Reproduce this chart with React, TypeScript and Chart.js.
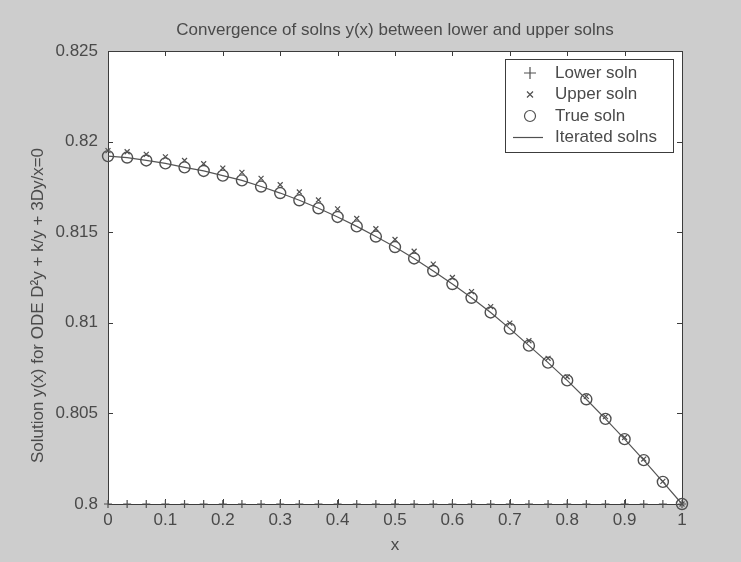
import React, { useEffect, useRef } from "react";
import { Chart, registerables } from "chart.js";

Chart.register(...registerables);

const xValues = [
  0, 1 / 30, 2 / 30, 3 / 30, 4 / 30, 5 / 30, 6 / 30, 7 / 30, 8 / 30, 9 / 30,
  10 / 30, 11 / 30, 12 / 30, 13 / 30, 14 / 30, 15 / 30, 16 / 30, 17 / 30, 18 / 30, 19 / 30,
  20 / 30, 21 / 30, 22 / 30, 23 / 30, 24 / 30, 25 / 30, 26 / 30, 27 / 30, 28 / 30, 29 / 30, 1,
];

const trueSoln = [
  0.8192, 0.81912, 0.81896, 0.8188, 0.81858, 0.81838, 0.81812, 0.81786, 0.81752, 0.81716,
  0.81676, 0.81632, 0.81584, 0.81532, 0.81476, 0.81418, 0.81355, 0.81286, 0.81214, 0.81138,
  0.81057, 0.80968, 0.80874, 0.8078, 0.80682, 0.80578, 0.8047, 0.80358, 0.80242, 0.80122, 0.8,
];

const upperSoln = [
  0.8195, 0.81944, 0.8193, 0.81916, 0.81896, 0.81878, 0.81854, 0.8183, 0.81797, 0.81762,
  0.81722, 0.81678, 0.81629, 0.81576, 0.81519, 0.8146, 0.81395, 0.81324, 0.8125, 0.81172,
  0.81089, 0.80998, 0.80901, 0.80804, 0.80702, 0.80594, 0.80482, 0.80367, 0.80248, 0.80125, 0.8,
];

const lowerSoln = [
  0.8, 0.8, 0.8, 0.8, 0.8, 0.8, 0.8, 0.8, 0.8, 0.8,
  0.8, 0.8, 0.8, 0.8, 0.8, 0.8, 0.8, 0.8, 0.8, 0.8,
  0.8, 0.8, 0.8, 0.8, 0.8, 0.8, 0.8, 0.8, 0.8, 0.8, 0.8,
];

const iteratedSoln = [
  0.8192, 0.81912, 0.81896, 0.8188, 0.81858, 0.81838, 0.81812, 0.81786, 0.81752, 0.81716,
  0.81676, 0.81632, 0.81584, 0.81532, 0.81476, 0.81418, 0.81355, 0.81286, 0.81214, 0.81138,
  0.81057, 0.80968, 0.80874, 0.8078, 0.80682, 0.80578, 0.8047, 0.80358, 0.80242, 0.80122, 0.8,
];

const xTicks = [0, 0.1, 0.2, 0.3, 0.4, 0.5, 0.6, 0.7, 0.8, 0.9, 1];
const xTickLabels = ["0", "0.1", "0.2", "0.3", "0.4", "0.5", "0.6", "0.7", "0.8", "0.9", "1"];
const yTicks = [0.8, 0.805, 0.81, 0.815, 0.82, 0.825];
const yTickLabels = ["0.8", "0.805", "0.81", "0.815", "0.82", "0.825"];

const seriesLabels = ["Lower soln", "Upper soln", "True soln", "Iterated solns"];
const chartTitle = "Convergence of solns y(x) between lower and upper solns";
const yAxisTitle = "Solution y(x) for ODE D²y + k/y + 3Dy/x=0";

const FONT = "'Liberation Sans', Arial, Helvetica, sans-serif";
const FS = 17;
const TEXT = "#4a4a4a";
const INK = "#505050";
const BG = "#cdcdcd";

const toPts = (ys: number[]) => ys.map((y, i) => ({ x: xValues[i], y }));

const framePlugin = {
  id: "frame",
  beforeDraw(chart: any) {
    const { ctx, chartArea: a } = chart;
    ctx.save();
    ctx.fillStyle = BG;
    ctx.fillRect(0, 0, chart.width, chart.height);
    ctx.fillStyle = "#ffffff";
    ctx.fillRect(a.left, a.top, a.right - a.left, a.bottom - a.top);
    ctx.fillStyle = TEXT;
    ctx.font = `${FS}px ${FONT}`;
    ctx.textAlign = "center";
    ctx.textBaseline = "middle";
    ctx.fillText(chartTitle, (a.left + a.right) / 2, 30);
    ctx.translate(38, (a.top + a.bottom) / 2 + 28);
    ctx.rotate(-Math.PI / 2);
    ctx.fillText(yAxisTitle, 0, 0);
    ctx.restore();
  },
  beforeDatasetsDraw(chart: any) {
    const { ctx, chartArea: a, scales } = chart;
    ctx.save();
    ctx.strokeStyle = "#3c3c3c";
    ctx.lineWidth = 1;
    ctx.strokeRect(Math.round(a.left) + 0.5, Math.round(a.top) + 0.5, Math.round(a.right - a.left), Math.round(a.bottom - a.top));
    const tl = 5;
    ctx.beginPath();
    xTicks.forEach((v) => {
      const px = Math.round(scales.x.getPixelForValue(v)) + 0.5;
      ctx.moveTo(px, a.bottom);
      ctx.lineTo(px, a.bottom - tl);
      ctx.moveTo(px, a.top);
      ctx.lineTo(px, a.top + tl);
    });
    yTicks.forEach((v) => {
      const py = Math.round(scales.y.getPixelForValue(v)) + 0.5;
      ctx.moveTo(a.left, py);
      ctx.lineTo(a.left + tl, py);
      ctx.moveTo(a.right, py);
      ctx.lineTo(a.right - tl, py);
    });
    ctx.stroke();
    ctx.restore();
  },
  afterDatasetsDraw(chart: any) {
    const { ctx, chartArea: a } = chart;
    const bx = a.right - 9;
    const w = 168;
    const left = bx - w;
    const top = a.top + 8;
    const h = 93;
    ctx.save();
    ctx.fillStyle = "#ffffff";
    ctx.fillRect(left, top, w, h);
    ctx.strokeStyle = "#3c3c3c";
    ctx.lineWidth = 1;
    ctx.strokeRect(Math.round(left) + 0.5, Math.round(top) + 0.5, w, h);
    const sx = left + 25;
    const tx = left + 50;
    ctx.font = `${FS}px ${FONT}`;
    ctx.textBaseline = "middle";
    ctx.textAlign = "left";
    seriesLabels.forEach((lab, i) => {
      const y = top + 14 + i * 21.5;
      ctx.strokeStyle = INK;
      ctx.lineWidth = 1.2;
      ctx.beginPath();
      if (i === 0) {
        ctx.moveTo(sx - 6, y);
        ctx.lineTo(sx + 6, y);
        ctx.moveTo(sx, y - 6);
        ctx.lineTo(sx, y + 6);
      } else if (i === 1) {
        ctx.moveTo(sx - 3, y - 3);
        ctx.lineTo(sx + 3, y + 3);
        ctx.moveTo(sx + 3, y - 3);
        ctx.lineTo(sx - 3, y + 3);
      } else if (i === 2) {
        ctx.arc(sx, y, 5.5, 0, Math.PI * 2);
      } else {
        ctx.moveTo(sx - 17, y);
        ctx.lineTo(sx + 13, y);
      }
      ctx.stroke();
      ctx.fillStyle = TEXT;
      ctx.fillText(lab, tx, y);
    });
    ctx.restore();
  },
};

export default function App() {
  const ref = useRef<HTMLCanvasElement | null>(null);

  useEffect(() => {
    document.body.style.margin = "0";
    const canvas = ref.current;
    if (!canvas) return;
    const chart = new Chart(canvas, {
      type: "line",
      data: {
        datasets: [
          {
            label: seriesLabels[3],
            data: toPts(iteratedSoln),
            borderColor: "#555555",
            borderWidth: 1.2,
            pointRadius: 0,
            fill: false,
            tension: 0,
            clip: false,
            order: 4,
          } as any,
          {
            label: seriesLabels[0],
            data: toPts(lowerSoln),
            showLine: false,
            pointStyle: "cross",
            pointRadius: 4,
            pointBorderColor: INK,
            pointBackgroundColor: "rgba(0,0,0,0)",
            pointBorderWidth: 1.2,
            borderColor: INK,
            clip: false,
            order: 3,
          },
          {
            label: seriesLabels[1],
            data: toPts(upperSoln),
            showLine: false,
            pointStyle: "crossRot",
            pointRadius: 3.5,
            pointBorderColor: INK,
            pointBackgroundColor: "rgba(0,0,0,0)",
            pointBorderWidth: 1.2,
            borderColor: INK,
            clip: false,
            order: 2,
          },
          {
            label: seriesLabels[2],
            data: toPts(trueSoln),
            showLine: false,
            pointStyle: "circle",
            pointRadius: 5.5,
            pointBorderColor: INK,
            pointBackgroundColor: "rgba(0,0,0,0)",
            pointBorderWidth: 1.4,
            borderColor: INK,
            clip: false,
            order: 1,
          },
        ],
      },
      options: {
        animation: false,
        responsive: true,
        maintainAspectRatio: false,
        layout: { padding: { left: 0, right: 59, top: 51, bottom: 0 } },
        plugins: {
          legend: { display: false },
          tooltip: { enabled: false },
          title: { display: false },
        },
        scales: {
          x: {
            type: "linear",
            min: 0,
            max: 1,
            afterBuildTicks: (s: any) => {
              s.ticks = xTicks.map((v) => ({ value: v }));
            },
            afterFit: (s: any) => {
              s.height = 58;
            },
            grid: { display: false, drawTicks: false },
            border: { display: false },
            ticks: {
              color: TEXT,
              font: { family: FONT, size: FS },
              padding: 6,
              maxRotation: 0,
              autoSkip: false,
              callback: (v: any) => {
                const i = xTicks.findIndex((t) => Math.abs(t - Number(v)) < 1e-9);
                return i >= 0 ? xTickLabels[i] : "";
              },
            },
            title: {
              display: true,
              text: "x",
              color: TEXT,
              font: { family: FONT, size: FS },
              padding: { top: 0, bottom: 6.8 },
            },
          },
          y: {
            type: "linear",
            min: 0.8,
            max: 0.825,
            afterBuildTicks: (s: any) => {
              s.ticks = yTicks.map((v) => ({ value: v }));
            },
            afterFit: (s: any) => {
              s.width = 108;
            },
            grid: { display: false, drawTicks: false },
            border: { display: false },
            ticks: {
              color: TEXT,
              font: { family: FONT, size: FS },
              padding: 10,
              autoSkip: false,
              callback: (v: any) => {
                const i = yTicks.findIndex((t) => Math.abs(t - Number(v)) < 1e-9);
                return i >= 0 ? yTickLabels[i] : "";
              },
            },
            title: { display: false },
          },
        },
      },
      plugins: [framePlugin],
    });
    return () => chart.destroy();
  }, []);

  return (
    <div style={{ width: 741, height: 562, position: "relative", background: BG }}>
      <canvas ref={ref} />
    </div>
  );
}
